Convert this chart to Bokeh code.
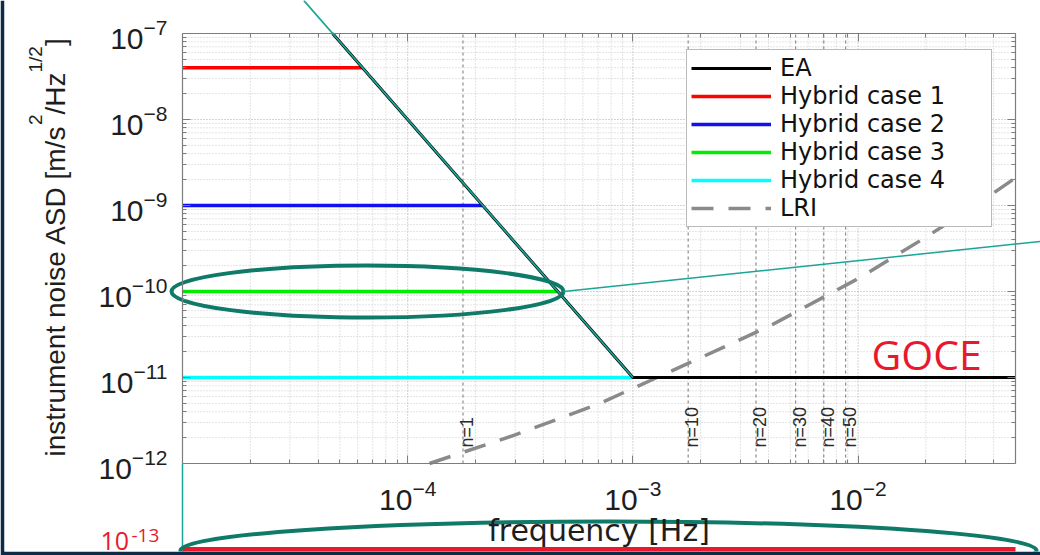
import math

from bokeh.core.properties import value
from bokeh.embed import file_html
from bokeh.models import FixedTicker, Legend, LegendItem, LogAxis, Range1d
from bokeh.plotting import figure
from bokeh.resources import INLINE

# ---------------------------------------------------------------- data
X_LIMITS = [1.0e-5, 5.0e-2]            # frequency [Hz]
Y_LIMITS = [1.0e-12, 1.0e-7]           # ASD [m/s^2/Hz^1/2]
X_MAJOR = [1.0e-4, 1.0e-3, 1.0e-2]
Y_MAJOR = [1.0e-12, 1.0e-11, 1.0e-10, 1.0e-9, 1.0e-8, 1.0e-7]

SERIES_LABELS = ["EA", "Hybrid case 1", "Hybrid case 2",
                 "Hybrid case 3", "Hybrid case 4", "LRI"]

EA_FREQ = [4.64e-5, 1.0e-3, 5.0e-2]
EA_ASD = [1.0e-7, 1.0e-11, 1.0e-11]

HYB1_FREQ = [1.0e-5, 6.3e-5]
HYB1_ASD = [4.0e-8, 4.0e-8]
HYB2_FREQ = [1.0e-5, 2.15e-4]
HYB2_ASD = [1.0e-9, 1.0e-9]
HYB3_FREQ = [1.0e-5, 4.64e-4]
HYB3_ASD = [1.0e-10, 1.0e-10]
HYB4_FREQ = [1.0e-5, 1.0e-3]
HYB4_ASD = [1.0e-11, 1.0e-11]

LRI_FREQ = [1.25e-4, 3.0e-4, 7.0e-4, 1.7e-3, 4.0e-3, 1.0e-2, 2.0e-2, 3.5e-2, 5.0e-2]
LRI_ASD = [1.0e-12, 2.15e-12, 4.9e-12, 1.4e-11, 3.9e-11, 1.41e-10, 4.28e-10, 1.1e-9, 2.1e-9]

ORBIT_FREQ = [1.76e-4, 1.76e-3, 3.52e-3, 5.28e-3, 7.04e-3, 8.8e-3]
ORBIT_LABELS = ["n=1", "n=10", "n=20", "n=30", "n=40", "n=50"]

GOCE_LEVEL = 1.0e-13

# ---------------------------------------------------------------- layout
W, H = 1040, 555
EDGE_L, EDGE_B = 4, 4                      # dark slide frame
BOX_L, BOX_R, BOX_T, BOX_B = 182, 1015, 33, 463

NAVY = "#0a2c49"
AXIS_GREY = "#7d7d7d"
TEAL_DARK = "#0f7a68"
TEAL_LIGHT = "#1aa597"
SLIDE_RED = "#e8192c"
INK = "#1e1e1e"

lx0, lx1 = math.log10(X_LIMITS[0]), math.log10(X_LIMITS[1])
ly0, ly1 = math.log10(Y_LIMITS[0]), math.log10(Y_LIMITS[1])
kx = (BOX_R - BOX_L) / (lx1 - lx0)
ky = (BOX_B - BOX_T) / (ly1 - ly0)


def sx(f):
    return BOX_L + (math.log10(f) - lx0) * kx


def fx(px):
    return 10 ** (lx0 + (px - BOX_L) / kx)


def fy(py):
    return 10 ** (ly0 + (BOX_B - py) / ky)


def minor_ticks(lo, hi):
    out = []
    e = math.floor(math.log10(lo))
    while 10.0 ** e <= hi:
        for m in range(2, 10):
            v = m * 10.0 ** e
            if lo * 1.0001 < v < hi * 0.9999:
                out.append(v)
        e += 1
    return out


X_MINOR = minor_ticks(*X_LIMITS)
Y_MINOR = minor_ticks(*Y_LIMITS)

p = figure(
    width=W, height=H,
    x_axis_type="log", y_axis_type="log",
    x_range=Range1d(fx(EDGE_L), fx(W)),
    y_range=Range1d(fy(H - EDGE_B), fy(0)),
    x_axis_location=None, y_axis_location=None,
    output_backend="svg", toolbar_location=None,
    min_border_left=EDGE_L, min_border_right=0,
    min_border_top=0, min_border_bottom=EDGE_B,
    background_fill_color="white", border_fill_color=NAVY,
)
p.title.visible = False
p.outline_line_color = None
p.xgrid.visible = False
p.ygrid.visible = False


def grid_lines(ticks, vertical, color, dash):
    n = len(ticks)
    if vertical:
        p.segment(x0=ticks, x1=ticks, y0=[Y_LIMITS[0]] * n, y1=[Y_LIMITS[1]] * n,
                  line_color=color, line_width=1, line_dash=dash)
    else:
        p.segment(x0=[X_LIMITS[0]] * n, x1=[X_LIMITS[1]] * n, y0=ticks, y1=ticks,
                  line_color=color, line_width=1, line_dash=dash)


grid_lines(X_MINOR, True, "#c8c8c8", "1 2")
grid_lines(Y_MINOR, False, "#c8c8c8", "1 2")
grid_lines(X_MAJOR, True, "#a8a8a8", "1 2")
grid_lines(Y_MAJOR[1:-1], False, "#a8a8a8", "1 2")

# orbit harmonics
p.segment(x0=ORBIT_FREQ, x1=ORBIT_FREQ,
          y0=[Y_LIMITS[0]] * len(ORBIT_FREQ), y1=[Y_LIMITS[1]] * len(ORBIT_FREQ),
          line_color="#8c8c8c", line_width=1.2, line_dash="3 3")
p.text(x=[fx(sx(f) + 4) for f in ORBIT_FREQ], y=[fy(447)] * len(ORBIT_FREQ), text=ORBIT_LABELS,
       angle=math.pi / 2, text_align="left", text_baseline="middle",
       text_font=value("Liberation Sans"), text_font_size="18px", text_color="#2a2a2a")

# ---------------------------------------------------------------- curves
r_lri = p.line(LRI_FREQ, LRI_ASD, line_color="#8a8a8a", line_width=3.5, line_dash="22 15")
r_h1 = p.line(HYB1_FREQ, HYB1_ASD, line_color="#ff0000", line_width=3.5)
r_h2 = p.line(HYB2_FREQ, HYB2_ASD, line_color="#1010f0", line_width=3.5)
r_h3 = p.line(HYB3_FREQ, HYB3_ASD, line_color="#00ee00", line_width=3.5)
r_h4 = p.line(HYB4_FREQ, HYB4_ASD, line_color="#00ffff", line_width=3.5)
r_ea = p.line(EA_FREQ, EA_ASD, line_color="black", line_width=3)


# ---------------------------------------------------------------- axes box
def box_axis(loc, bounds, major, minor, labels):
    ax = LogAxis(
        fixed_location=loc, bounds=tuple(bounds),
        ticker=FixedTicker(ticks=major, minor_ticks=minor),
        axis_line_color=AXIS_GREY, axis_line_width=1.2,
        major_tick_in=8, major_tick_out=0, minor_tick_in=4, minor_tick_out=0,
        major_tick_line_color=AXIS_GREY, minor_tick_line_color=AXIS_GREY,
        major_label_text_font="Liberation Sans", major_label_text_font_size="30px",
        major_label_text_color=INK,
    )
    if not labels:
        ax.major_label_text_color = None
    return ax


ax_bottom = box_axis(Y_LIMITS[0], X_LIMITS, X_MAJOR, X_MINOR, True)
ax_bottom.major_label_standoff = 16
ax_bottom.axis_label = "frequency [Hz]"
ax_bottom.axis_label_text_font = "DejaVu Sans"
ax_bottom.axis_label_text_font_size = "30px"
ax_bottom.axis_label_text_font_style = "normal"
ax_bottom.axis_label_text_color = INK
ax_bottom.axis_label_standoff = 0
p.add_layout(ax_bottom, "below")

ax_left = box_axis(X_LIMITS[0], Y_LIMITS, Y_MAJOR, Y_MINOR, True)
ax_left.major_label_standoff = 15
p.add_layout(ax_left, "left")

p.add_layout(box_axis(Y_LIMITS[1], X_LIMITS, X_MAJOR, X_MINOR, False), "above")
p.add_layout(box_axis(X_LIMITS[1], Y_LIMITS, Y_MAJOR, Y_MINOR, False), "right")

# y axis title, set in pieces so the units carry real superscripts
ARIAL_W = {"i": 222, "n": 556, "s": 500, "t": 278, "r": 333, "u": 556, "m": 833,
           "e": 556, " ": 278, "o": 556, "A": 667, "S": 667, "D": 722, "[": 278,
           "/": 278, "H": 722, "z": 500, "]": 278, "1": 556, "2": 556}
YLAB_MAIN, YLAB_SUP = 28, 19
ylab_pieces = [("instrument noise ASD [m/s", False), ("2", True), ("/Hz", False),
               ("1/2", True), ("]", False)]
cursor = 456.0
for txt, sup in ylab_pieces:
    size = YLAB_SUP if sup else YLAB_MAIN
    mid_x = 35 if sup else 55
    p.text(x=[fx(mid_x)], y=[fy(cursor)], text=[txt], angle=math.pi / 2,
           text_align="left", text_baseline="middle",
           text_font=value("Liberation Sans"), text_font_size=f"{size}px", text_color=INK)
    cursor -= sum(ARIAL_W[c] for c in txt) / 1000 * size

# ---------------------------------------------------------------- legend
legend = Legend(
    items=[LegendItem(label=lab, renderers=[r]) for lab, r in
           zip(SERIES_LABELS, [r_ea, r_h1, r_h2, r_h3, r_h4, r_lri])],
    location=(686 - EDGE_L, (H - EDGE_B) - 51 - 176),
    margin=0, padding=4, spacing=0,
    label_height=28, glyph_height=28, glyph_width=80, label_standoff=9, label_width=207,
    label_text_font="DejaVu Sans", label_text_font_size="24px", label_text_color="#111111",
    border_line_color="#767676", border_line_width=1,
    background_fill_color="white", background_fill_alpha=1.0,
)
p.add_layout(legend)

# ---------------------------------------------------------------- slide annotations
# GOCE requirement level below the plotted box
p.line([X_LIMITS[0], X_LIMITS[1]], [GOCE_LEVEL, GOCE_LEVEL], line_color=SLIDE_RED, line_width=5)
p.line([X_LIMITS[0], X_LIMITS[0]], [Y_LIMITS[0], GOCE_LEVEL], line_color=TEAL_LIGHT, line_width=1.5)
p.text(x=[fx(100)], y=[fy(540)], text=["10"], text_align="left", text_baseline="middle",
       text_font=value("Open Sans"), text_font_size="25px", text_color=SLIDE_RED)
p.text(x=[fx(131)], y=[fy(535)], text=["-13"], text_align="left", text_baseline="middle",
       text_font=value("Open Sans"), text_font_size="19px", text_color=SLIDE_RED)
p.text(x=[fx(871)], y=[fy(353)], text=["GOCE"], text_align="left", text_baseline="middle",
       text_font=value("Open Sans"), text_font_size="41px", text_color=SLIDE_RED)

# connector along the EA slope, from the knee up to the top of the slide
slope = (math.log10(EA_ASD[1]) - math.log10(EA_ASD[0])) / (math.log10(EA_FREQ[1]) - math.log10(EA_FREQ[0]))
top_val = fy(0)
top_freq = EA_FREQ[1] * 10 ** ((math.log10(top_val) - math.log10(EA_ASD[1])) / slope)
p.line([EA_FREQ[1], top_freq], [EA_ASD[1], top_val], line_color=TEAL_LIGHT, line_width=1.8)

# highlight around Hybrid case 3 and its connector to the right
p.ellipse(x=[fx(367)], y=[HYB3_ASD[0]], width=392, height=52, width_units="screen", height_units="screen",
          fill_color=None, line_color=TEAL_DARK, line_width=4)
p.line([fx(563), fx(W)], [HYB3_ASD[0], fy(241)], line_color=TEAL_LIGHT, line_width=1.5)

# highlight around the GOCE level
p.ellipse(x=[fx(608)], y=[fy(550)], width=856, height=58, width_units="screen", height_units="screen",
          fill_color=None, line_color=TEAL_DARK, line_width=4)

open("out.html", "w").write(file_html(p, INLINE))
